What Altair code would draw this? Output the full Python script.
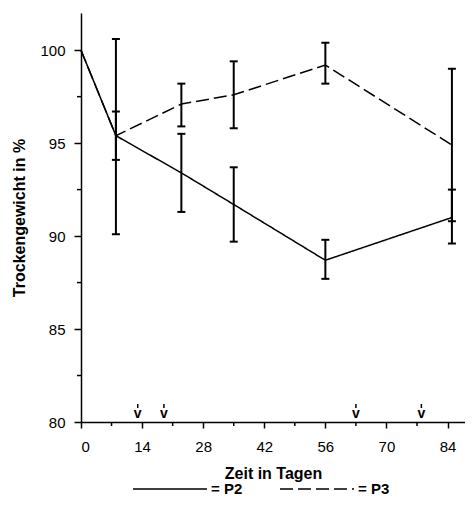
import altair as alt
import pandas as pd

# ---- data ----
days = [0, 8, 23, 35, 56, 85]
p2_mean = [100.0, 95.4, 93.4, 91.7, 88.7, 91.0]
p2_low = [None, 94.1, 91.3, 89.7, 87.7, 89.6]
p2_high = [None, 96.7, 95.5, 93.7, 89.8, 92.5]
p3_mean = [100.0, 95.4, 97.1, 97.6, 99.2, 94.9]
p3_low = [None, 90.1, 95.9, 95.8, 98.2, 90.8]
p3_high = [None, 100.6, 98.2, 99.4, 100.4, 99.0]

arrow_days = [13, 19, 63, 78]
x_ticks = [0, 14, 28, 42, 56, 70, 84]
x_minor = [7, 21, 35, 49, 63, 77]
y_ticks = [80, 85, 90, 95, 100]
y_minor = [82.5, 87.5, 92.5, 97.5]

rows = []
for name, m, lo, hi in [("P2", p2_mean, p2_low, p2_high), ("P3", p3_mean, p3_low, p3_high)]:
    for d, a, b, c in zip(days, m, lo, hi):
        rows.append({"day": d, "series": name, "mean": a, "low": b, "high": c})
df = pd.DataFrame(rows)
err = df.dropna()

FONT = "Liberation Sans"
W, H = 384, 409

xscale = alt.Scale(domain=[0, 88], nice=False, zero=False)
yscale = alt.Scale(domain=[80, 102], nice=False, zero=False)

xaxis = alt.Axis(values=x_ticks, title="Zeit in Tagen", grid=False, tickSize=6,
                 labelPadding=11, titlePadding=11, labelFontSize=15, titleFontSize=16,
                 titleFontWeight="bold", domainWidth=1.5, tickWidth=1.5,
                 domainColor="black", tickColor="black", labelColor="black", titleColor="black")
yaxis = alt.Axis(values=y_ticks, title="Trockengewicht in %", grid=False, tickSize=7,
                 labelPadding=9, titlePadding=12, labelFontSize=15, titleFontSize=16,
                 titleFontWeight="bold", domainWidth=1.5, tickWidth=1.5,
                 domainColor="black", tickColor="black", labelColor="black", titleColor="black")

lines = alt.Chart(df).mark_line(color="black", strokeWidth=1.5).encode(
    x=alt.X("day:Q", scale=xscale, axis=xaxis),
    y=alt.Y("mean:Q", scale=yscale, axis=yaxis),
    strokeDash=alt.StrokeDash(
        "series:N",
        scale=alt.Scale(domain=["P2", "P3"], range=[[1, 0], [13, 5]]),
        legend=alt.Legend(orient="none", legendX=51, legendY=438, direction="horizontal",
                          title=None, symbolType="stroke", symbolSize=74 * 74,
                          symbolStrokeWidth=1.5, symbolStrokeColor="black",
                          labelFont=FONT, labelFontSize=15, labelFontWeight="bold",
                          labelColor="black", labelExpr="'= ' + datum.label",
                          columnPadding=34, padding=0, labelOffset=3),
    ),
)

bars = alt.Chart(err).mark_rule(color="black", strokeWidth=2).encode(
    x="day:Q", y="low:Q", y2="high:Q")
cap_lo = alt.Chart(err).mark_rule(color="black", strokeWidth=2, xOffset=-4, x2Offset=4).encode(
    x="day:Q", x2="day:Q", y="low:Q")
cap_hi = alt.Chart(err).mark_rule(color="black", strokeWidth=2, xOffset=-4, x2Offset=4).encode(
    x="day:Q", x2="day:Q", y="high:Q")

xm = alt.Chart(pd.DataFrame({"d": x_minor})).mark_rule(color="black", strokeWidth=1.5).encode(
    x="d:Q", y=alt.value(H), y2=alt.value(H + 4))
ym = alt.Chart(pd.DataFrame({"v": y_minor})).mark_rule(color="black", strokeWidth=1.5).encode(
    y="v:Q", x=alt.value(0), x2=alt.value(-4))

arrows_df = pd.DataFrame({"d": arrow_days, "v": [80] * len(arrow_days), "t": ["v"] * len(arrow_days)})
arrow_v = alt.Chart(arrows_df).mark_text(font=FONT, fontSize=14, fontWeight="bold", baseline="alphabetic",
                                         dy=-4, color="black").encode(x="d:Q", y="v:Q", text="t:N")
arrow_dash = alt.Chart(arrows_df).mark_rule(color="black", strokeWidth=1.5, yOffset=-18, y2Offset=-14).encode(
    x="d:Q", y="v:Q", y2="v:Q")

chart = alt.layer(lines, bars, cap_lo, cap_hi, xm, ym, arrow_dash, arrow_v).properties(
    width=W, height=H,
    autosize=alt.AutoSizeParams(type="none"),
    padding={"left": 73, "top": 5, "right": 0, "bottom": 75},
).configure_view(stroke=None).configure_axis(labelFont=FONT, titleFont=FONT)

chart.save("out.html", embed_options={"renderer": "svg", "actions": False})
